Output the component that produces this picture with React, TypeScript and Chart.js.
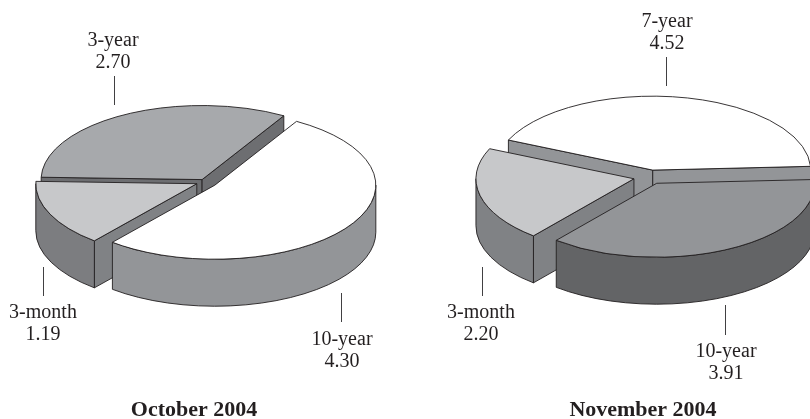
import React, { useEffect, useRef } from "react";
import { Chart, registerables } from "chart.js";

Chart.register(...registerables);

// Treasury yield shares shown on each pie
const octoberCategories = ["10-year", "3-month", "3-year"];
const octoberValues = [4.3, 1.19, 2.7];
const novemberCategories = ["7-year", "10-year", "3-month"];
const novemberValues = [4.52, 3.91, 2.2];

const octoberTitle = "October 2004";
const novemberTitle = "November 2004";

const DEPTH = 47;
const INK = "#231f20";
const SERIF = '"Liberation Serif", serif';

type SliceStyle = { top: string; wall: string; face: string; explode: number };
type Callout = { cx: number; base: number; line: [number, number, number] };

const octoberStyles: SliceStyle[] = [
  { top: "#ffffff", wall: "#939598", face: "#939598", explode: 12 },
  { top: "#c7c8ca", wall: "#7c7d80", face: "#808285", explode: 9 },
  { top: "#a7a9ac", wall: "#6d6e71", face: "#6d6e71", explode: 6 },
];
const novemberStyles: SliceStyle[] = [
  { top: "#ffffff", wall: "#939598", face: "#939598", explode: 15 },
  { top: "#939598", wall: "#636466", face: "#636466", explode: 15 },
  { top: "#c7c8ca", wall: "#808285", face: "#808285", explode: 16.5 },
];

const octoberCallouts: Callout[] = [
  { cx: 342, base: 345, line: [341, 293, 322] },
  { cx: 43, base: 318, line: [43, 267, 296] },
  { cx: 113, base: 46, line: [114, 76, 105] },
];
const novemberCallouts: Callout[] = [
  { cx: 667, base: 27, line: [666, 57, 86] },
  { cx: 726, base: 357, line: [725, 305, 335] },
  { cx: 481, base: 318, line: [482, 267, 296] },
];

// Draws slices as extruded wedges: cut faces, then outer wall, then the top.
const extrudedPie = {
  id: "extrudedPie",
  beforeDatasetsDraw(chart: any, _args: any, opts: any) {
    const { ctx } = chart;
    const arcs: any[] = chart.getDatasetMeta(0).data;
    const styles: SliceStyle[] = opts.styles;
    const squash: number = opts.squash;
    const mid = (a: any) => (a.startAngle + a.endAngle) / 2;
    const order = arcs
      .map((_, i) => i)
      .sort((a, b) => Math.sin(mid(arcs[a])) - Math.sin(mid(arcs[b])));

    ctx.save();
    ctx.lineJoin = "round";
    ctx.lineWidth = 0.9;
    ctx.strokeStyle = INK;

    for (const i of order) {
      const arc = arcs[i];
      const s = styles[i];
      const { x, y, startAngle, endAngle, outerRadius: r } = arc;
      const m = mid(arc);
      const ox = x + Math.cos(m) * s.explode;
      const oy = y + Math.sin(m) * s.explode * squash;
      const px = (t: number) => ox + r * Math.cos(t);
      const py = (t: number) => oy + r * Math.sin(t) * squash;

      // radial cut faces, only those turned towards the viewer
      const faces: number[] = [];
      if (-Math.cos(startAngle) > 0) faces.push(startAngle);
      if (Math.cos(endAngle) > 0) faces.push(endAngle);
      for (const t of faces) {
        ctx.beginPath();
        ctx.moveTo(ox, oy);
        ctx.lineTo(px(t), py(t));
        ctx.lineTo(px(t), py(t) + DEPTH);
        ctx.lineTo(ox, oy + DEPTH);
        ctx.closePath();
        ctx.fillStyle = s.face;
        ctx.fill();
        ctx.stroke();
      }

      // outer wall, front half of the rim only
      const turn = 2 * Math.PI;
      const base = Math.floor(startAngle / turn) * turn;
      let from = startAngle;
      let to = Math.min(endAngle, base + Math.PI);
      if (startAngle > base + Math.PI) {
        from = base + turn;
        to = Math.min(endAngle, base + turn + Math.PI);
      }
      if (to > from) {
        ctx.beginPath();
        ctx.ellipse(ox, oy, r, r * squash, 0, from, to);
        ctx.lineTo(px(to), py(to) + DEPTH);
        ctx.ellipse(ox, oy + DEPTH, r, r * squash, 0, to, from, true);
        ctx.closePath();
        ctx.fillStyle = s.wall;
        ctx.fill();
        ctx.stroke();
      }

      // top surface, filled by the library's arc element
      ctx.save();
      ctx.translate(0, y);
      ctx.scale(1, squash);
      ctx.translate(0, -y);
      ctx.translate(Math.cos(m) * s.explode, Math.sin(m) * s.explode);
      arc.draw(ctx);
      ctx.restore();

      ctx.beginPath();
      ctx.moveTo(ox, oy);
      ctx.ellipse(ox, oy, r, r * squash, 0, startAngle, endAngle);
      ctx.closePath();
      ctx.stroke();
    }
    ctx.restore();
    return false;
  },
  afterDraw(chart: any, _args: any, opts: any) {
    const { ctx } = chart;
    const labels: string[] = chart.data.labels;
    const values: number[] = chart.data.datasets[0].data;
    const callouts: Callout[] = opts.callouts;
    ctx.save();
    ctx.fillStyle = INK;
    ctx.textAlign = "center";
    ctx.textBaseline = "alphabetic";
    ctx.font = `20px ${SERIF}`;
    labels.forEach((label, i) => {
      const c = callouts[i];
      ctx.fillText(label, c.cx, c.base);
      ctx.fillText(values[i].toFixed(2), c.cx, c.base + 22);
      const [lx, y0, y1] = c.line;
      ctx.beginPath();
      ctx.moveTo(lx + 0.5, y0);
      ctx.lineTo(lx + 0.5, y1);
      ctx.lineWidth = 1;
      ctx.strokeStyle = "#414042";
      ctx.stroke();
    });
    ctx.font = `bold 22px ${SERIF}`;
    ctx.fillText(opts.title, opts.titleX, 416);
    ctx.restore();
  },
};

function buildConfig(
  labels: string[],
  values: number[],
  styles: SliceStyle[],
  callouts: Callout[],
  rotation: number,
  radius: number,
  squash: number,
  padding: object,
  title: string,
  titleX: number
): any {
  return {
    type: "pie",
    data: {
      labels,
      datasets: [
        {
          data: values,
          backgroundColor: styles.map((s) => s.top),
          borderWidth: 0,
        },
      ],
    },
    options: {
      responsive: false,
      animation: false,
      rotation,
      radius,
      layout: { padding },
      events: [],
      plugins: {
        legend: { display: false },
        tooltip: { enabled: false },
        extrudedPie: { styles, callouts, squash, title, titleX },
      },
    },
    plugins: [extrudedPie],
  };
}

const layerStyle: React.CSSProperties = { position: "absolute", left: 0, top: 0 };

export default function App() {
  const leftRef = useRef<HTMLCanvasElement>(null);
  const rightRef = useRef<HTMLCanvasElement>(null);

  useEffect(() => {
    const left = new Chart(
      leftRef.current!,
      buildConfig(
        octoberCategories,
        octoberValues,
        octoberStyles,
        octoberCallouts,
        30.5,
        161,
        0.46,
        { right: 400, bottom: 55 },
        octoberTitle,
        194
      )
    );
    const right = new Chart(
      rightRef.current!,
      buildConfig(
        novemberCategories,
        novemberValues,
        novemberStyles,
        novemberCallouts,
        -66,
        158,
        0.468,
        { left: 490, bottom: 65 },
        novemberTitle,
        643
      )
    );
    return () => {
      left.destroy();
      right.destroy();
    };
  }, []);

  return (
    <div
      style={{
        position: "absolute",
        left: 0,
        top: 0,
        width: 810,
        height: 419,
        overflow: "hidden",
        background: "#ffffff",
      }}
    >
      <canvas ref={leftRef} width={810} height={419} style={layerStyle} />
      <canvas ref={rightRef} width={810} height={419} style={layerStyle} />
    </div>
  );
}
